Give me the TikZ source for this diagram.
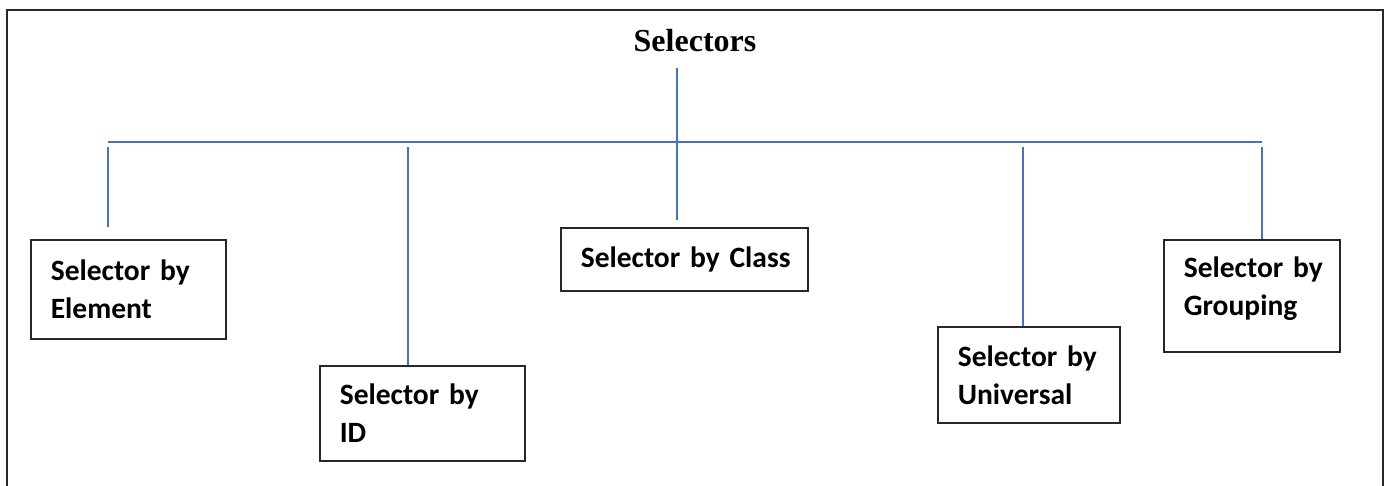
\documentclass[tikz,border=0pt]{standalone}
\usepackage{fontspec}
\setmainfont{Liberation Serif}
\newfontfamily\calfont{Carlito}
\definecolor{linkblue}{RGB}{68,114,196}
\definecolor{edgegray}{RGB}{40,40,40}

\begin{document}
\begin{tikzpicture}[x=1pt,y=-1pt,
  selbox/.style={draw=edgegray, line width=1.6pt, anchor=north west,
    align=left, inner xsep=0pt, inner ysep=0pt,
    execute at begin node={\leftskip=20pt\relax},
    font=\calfont\bfseries\fontsize{29.5}{38}\selectfont},
  link/.style={draw=linkblue, line width=1.4pt},
  frame/.style={draw=edgegray, line width=2pt}]

  \useasboundingbox (0,0) rectangle (1391,486);

  % outer frame, open at the bottom edge
  \draw[frame] (7,486) -- (7,10) -- (1383,10) -- (1383,486);

  % title
  \node[font=\bfseries\fontsize{32}{38}\selectfont, anchor=base] (title) at (695,52) {Selectors};

  % selector boxes
  \node[selbox, text width=195pt, minimum height=99pt] (elem)  at (30,239)  {Selector by\\Element};
  \node[selbox, text width=205pt, minimum height=95pt] (sid)   at (319,365) {Selector by\\ID};
  \node[selbox, text width=247pt, minimum height=63pt] (cls)   at (560,227) {Selector by Class};
  \node[selbox, text width=182pt, minimum height=96pt] (univ)  at (937,326) {Selector by\\Universal};
  \node[selbox, text width=176pt, minimum height=112pt] (grp)  at (1163,239) {Selector by\\Grouping\rule[-19pt]{0pt}{19pt}};

  % junction points of the tree
  \coordinate (stemtop) at (677,68);
  \coordinate (stembot) at (677,220);
  \coordinate (busL) at (108,142);
  \coordinate (busR) at (1262,142);
  \coordinate (dropA) at (108,147);
  \coordinate (dropAend) at (108,227);
  \coordinate (dropB) at (408,147);
  \coordinate (dropC) at (1023,147);
  \coordinate (dropD) at (1262,147);

  % connectors
  \draw[link] (stemtop) -- (stembot);
  \draw[link] (busL) -- (busR);
  \draw[link] (dropA) -- (dropAend);
  \draw[link] (dropB) -- (dropB |- sid.north);
  \draw[link] (dropC) -- (dropC |- univ.north);
  \draw[link] (dropD) -- (dropD |- grp.north);
\end{tikzpicture}
\end{document}
